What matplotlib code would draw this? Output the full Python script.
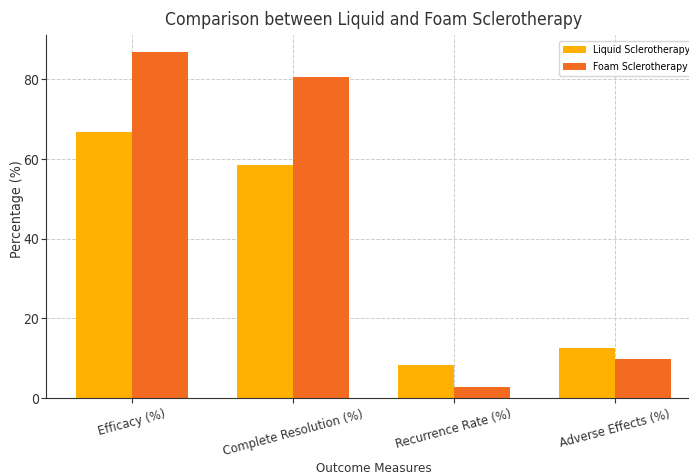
import matplotlib
matplotlib.use("Agg")
import matplotlib.pyplot as plt
import numpy as np

categories = ["Efficacy (%)", "Complete Resolution (%)", "Recurrence Rate (%)", "Adverse Effects (%)"]
liquid = [66.7, 58.4, 8.3, 12.5]
foam = [86.8, 80.7, 2.8, 9.8]

plt.rcParams['font.family'] = 'DejaVu Sans'
plt.rcParams['font.stretch'] = 'condensed'

fig = plt.figure(figsize=(6.89, 4.76), dpi=100)
ax = fig.add_axes([46/689, 1-398/476, (701-46)/689, (398-35)/476])

x = np.arange(len(categories))
w = 0.35
ax.bar(x - w/2, liquid, w, label="Liquid Sclerotherapy", color="#FFB000")
ax.bar(x + w/2, foam, w, label="Foam Sclerotherapy", color="#F26B21")

ax.set_xticks(x)
ax.set_xticklabels(categories, rotation=15, fontsize=9.3)
ax.set_yticks([0, 20, 40, 60, 80])
ax.tick_params(axis='y', labelsize=10, colors="#333333", labelcolor="#333333", length=3.5, pad=1.5)
ax.tick_params(axis='x', colors="#333333", labelcolor="#333333", length=3.5)
ax.set_xlabel("Outcome Measures", fontsize=9.5, color="#333333")
ax.xaxis.set_label_coords(0.5, -(462 - 398) / 363)
ax.set_ylabel("Percentage (%)", fontsize=10.2, color="#333333")
ax.yaxis.set_label_coords(-(46 - 24) / 655, 0.52)
ax.set_title("Comparison between Liquid and Foam Sclerotherapy", fontsize=12.6, color="#333333", pad=7)
ax.grid(True, linestyle="--", color="#cccccc", linewidth=0.7)
ax.set_axisbelow(True)
for s in ["top", "right"]:
    ax.spines[s].set_visible(False)
for s in ["left", "bottom"]:
    ax.spines[s].set_color("#333333")
ax.legend(loc="upper left", bbox_to_anchor=(559/689, 1-41/476), bbox_transform=fig.transFigure,
          fontsize=7.6, borderaxespad=0, handlelength=2.2, handletextpad=0.6, labelspacing=0.65)

fig.savefig("out.png", dpi=100)
